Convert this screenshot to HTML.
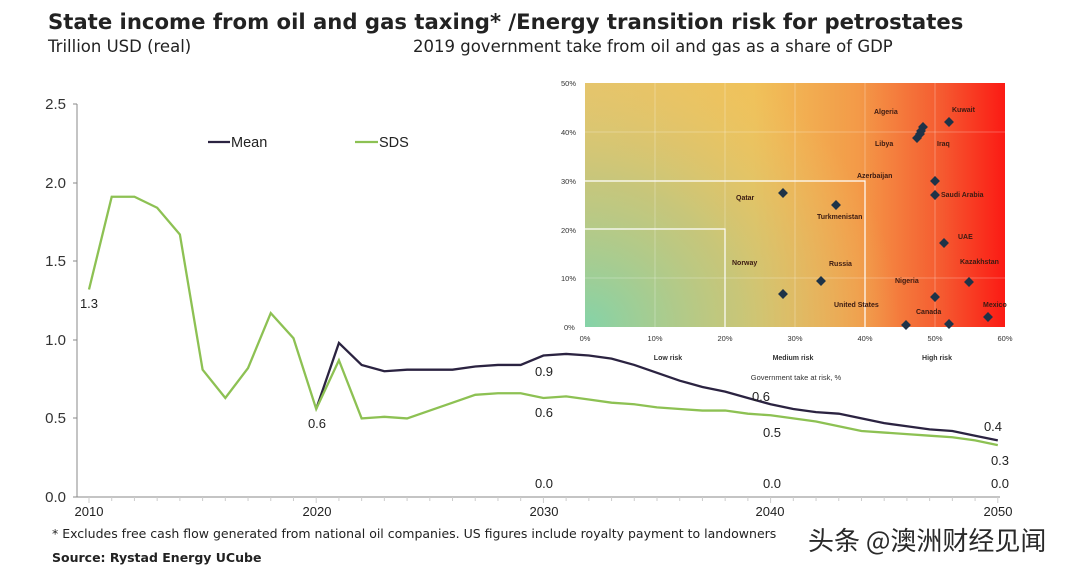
<!DOCTYPE html>
<html><head><meta charset="utf-8"><style>
body{margin:0;width:1080px;height:570px;background:#fff;overflow:hidden;font-family:"Liberation Sans",sans-serif}
svg{position:absolute;left:0;top:0}
svg text{font-family:"Liberation Sans",Arial,sans-serif}
svg text.dv{font-family:"DejaVu Sans",sans-serif}
svg text.cjk{font-family:"Noto Sans CJK SC","WenQuanYi Zen Hei",sans-serif}
</style></head><body>
<svg width="1080" height="570" xmlns="http://www.w3.org/2000/svg">
<defs>
<linearGradient id="h" x1="0" x2="1" y1="0" y2="0">
<stop offset="0" stop-color="#e9c56a"/><stop offset="0.4" stop-color="#f0c25a"/><stop offset="0.65" stop-color="#f39a48"/><stop offset="0.85" stop-color="#f55a30"/><stop offset="1" stop-color="#fb1a14"/></linearGradient>
<radialGradient id="g" cx="0" cy="1" r="0.75" gradientTransform="scale(1,1.6) translate(0,-0.375)">
<stop offset="0" stop-color="#84d3a8" stop-opacity="1"/><stop offset="0.5" stop-color="#b8c784" stop-opacity="0.7"/><stop offset="1" stop-color="#e9c56a" stop-opacity="0"/></radialGradient>
</defs>
<text class="dv" x="48" y="29" font-size="21.2" font-weight="bold" fill="#222">State income from oil and gas taxing* /Energy transition risk for petrostates</text>
<text class="dv" x="48" y="52" font-size="16.5" fill="#222">Trillion USD (real)</text>
<text class="dv" x="413" y="52" font-size="16.5" fill="#222">2019 government take from oil and gas as a share of GDP</text>
<g stroke="#888" stroke-width="1"><line x1="77" y1="104" x2="77" y2="497"/><line x1="77" y1="497" x2="1000" y2="497"/>
<line x1="73" y1="104" x2="77" y2="104"/><line x1="73" y1="183" x2="77" y2="183"/><line x1="73" y1="261" x2="77" y2="261"/><line x1="73" y1="340" x2="77" y2="340"/><line x1="73" y1="418" x2="77" y2="418"/><line x1="73" y1="497" x2="77" y2="497"/></g>
<g id="ticks" stroke="#ccc"></g>
<g font-size="15" fill="#333" text-anchor="end"><text x="66" y="109">2.5</text><text x="66" y="188">2.0</text><text x="66" y="266">1.5</text><text x="66" y="345">1.0</text><text x="66" y="423">0.5</text><text x="66" y="502">0.0</text></g>
<g font-size="13" fill="#222" text-anchor="middle"><text x="89" y="516">2010</text><text x="317" y="516">2020</text><text x="544" y="516">2030</text><text x="770" y="516">2040</text><text x="998" y="516">2050</text></g>
<rect x="585" y="83" width="420" height="244" fill="url(#h)"/>
<rect x="585" y="83" width="420" height="244" fill="url(#g)"/>
<g stroke="#fff" stroke-opacity="0.35" stroke-width="0.8"><line x1="655" y1="83" x2="655" y2="327"/><line x1="725" y1="83" x2="725" y2="327"/><line x1="795" y1="83" x2="795" y2="327"/><line x1="865" y1="83" x2="865" y2="327"/><line x1="935" y1="83" x2="935" y2="327"/><line x1="585" y1="132" x2="1005" y2="132"/><line x1="585" y1="278" x2="1005" y2="278"/></g>
<g stroke="#fff" stroke-width="1.2" fill="none"><path d="M585 181H865V327"/><path d="M585 229H725V327"/></g>
<g font-size="7.5" fill="#333"><text x="561" y="86">50%</text><text x="561" y="135">40%</text><text x="561" y="184">30%</text><text x="561" y="233">20%</text><text x="561" y="281">10%</text><text x="564" y="330">0%</text></g>
<g font-size="7.5" fill="#333" text-anchor="middle"><text x="585" y="341">0%</text><text x="655" y="341">10%</text><text x="725" y="341">20%</text><text x="795" y="341">30%</text><text x="865" y="341">40%</text><text x="935" y="341">50%</text><text x="1005" y="341">60%</text>
<g font-weight="bold" font-size="7"><text x="668" y="360">Low risk</text><text x="793" y="360">Medium risk</text><text x="937" y="360">High risk</text></g>
<text x="796" y="380">Government take at risk, %</text></g>
<g id="pts" fill="#1e3348"></g>
<g font-size="7" font-weight="bold" fill="#3a1a12">
<text x="874" y="114">Algeria</text><text x="952" y="112">Kuwait</text><text x="875" y="146">Libya</text><text x="937" y="146">Iraq</text><text x="857" y="178">Azerbaijan</text><text x="941" y="197">Saudi Arabia</text><text x="736" y="200">Qatar</text><text x="817" y="219">Turkmenistan</text><text x="958" y="239">UAE</text><text x="960" y="264">Kazakhstan</text><text x="829" y="266">Russia</text><text x="732" y="265">Norway</text><text x="895" y="283">Nigeria</text><text x="834" y="307">United States</text><text x="916" y="314">Canada</text><text x="983" y="307">Mexico</text></g>
<polyline id="mean" fill="none" stroke="#2b2341" stroke-width="2.3"/>
<polyline id="sds" fill="none" stroke="#8dc153" stroke-width="2.3"/>
<line x1="208" y1="142" x2="230" y2="142" stroke="#2b2341" stroke-width="2.3"/><text x="231" y="147" font-size="14.5" fill="#222">Mean</text>
<line x1="355" y1="142" x2="378" y2="142" stroke="#8dc153" stroke-width="2.3"/><text x="379" y="147" font-size="14.5" fill="#222">SDS</text>
<g font-size="13" fill="#222" text-anchor="middle">
<text x="89" y="308">1.3</text><text x="317" y="428">0.6</text><text x="544" y="376">0.9</text><text x="544" y="417">0.6</text><text x="544" y="488">0.0</text>
<text x="761" y="401">0.6</text><text x="772" y="437">0.5</text><text x="772" y="488">0.0</text>
<text x="993" y="431">0.4</text><text x="1000" y="465">0.3</text><text x="1000" y="488">0.0</text></g>
<text class="dv" x="52" y="538" font-size="12.5" fill="#222">* Excludes free cash flow generated from national oil companies. US figures include royalty payment to landowners</text>
<text class="dv" x="52" y="562" font-size="12.5" font-weight="bold" fill="#222">Source: Rystad Energy UCube</text>
<text class="cjk" x="808" y="550" font-size="26" fill="#2a2a2a">头条 @澳洲财经见闻</text>
</svg>
<script>
var X=function(y){return 89+(y-2010)*22.72},Y=function(v){return 497-v*157.2};
var sds=[1.32,1.91,1.91,1.84,1.67,0.81,0.63,0.82,1.17,1.01,0.56,0.87,0.50,0.51,0.50,0.55,0.60,0.65,0.66,0.66,0.63,0.64,0.62,0.60,0.59,0.57,0.56,0.55,0.55,0.53,0.52,0.50,0.48,0.45,0.42,0.41,0.40,0.39,0.38,0.36,0.33];
var mean=[0.56,0.98,0.84,0.80,0.81,0.81,0.81,0.83,0.84,0.84,0.90,0.91,0.90,0.88,0.84,0.79,0.74,0.70,0.67,0.63,0.59,0.56,0.54,0.53,0.50,0.47,0.45,0.43,0.42,0.39,0.36];
document.getElementById('sds').setAttribute('points',sds.map(function(v,i){return X(2010+i)+','+Y(v)}).join(' '));
document.getElementById('mean').setAttribute('points',mean.map(function(v,i){return X(2020+i)+','+Y(v)}).join(' '));
var t='';for(var y=2010;y<=2050;y++){t+='<line x1="'+X(y)+'" y1="497" x2="'+X(y)+'" y2="'+(y%10?501:503)+'"/>';}
document.getElementById('ticks').innerHTML=t;
var p=[[923,127],[949,122],[920,134],[917,138],[921,131],[935,181],[935,195],[783,193],[836,205],[944,243],[969,282],[821,281],[783,294],[935,297],[988,317],[906,325],[949,324]],s='';
p.forEach(function(q){s+='<rect x="'+(q[0]-3.5)+'" y="'+(q[1]-3.5)+'" width="7" height="7" transform="rotate(45 '+q[0]+' '+q[1]+')"/>';});
document.getElementById('pts').innerHTML=s;
</script>
</body></html>
